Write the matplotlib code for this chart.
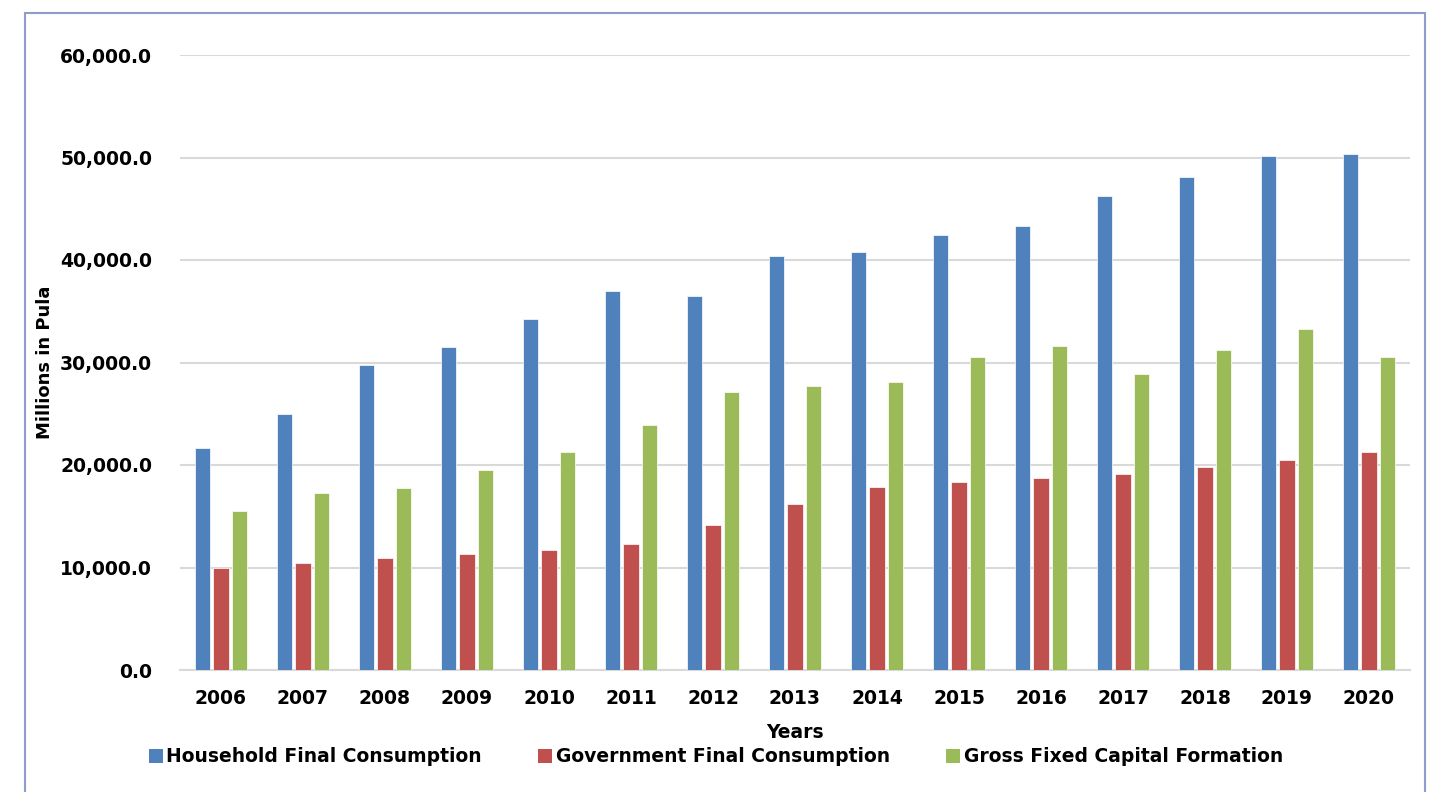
import matplotlib
matplotlib.use("Agg")
import matplotlib.pyplot as plt
import numpy as np
from matplotlib.patches import Rectangle
from matplotlib.ticker import FuncFormatter

years = ["2006", "2007", "2008", "2009", "2010", "2011", "2012", "2013",
         "2014", "2015", "2016", "2017", "2018", "2019", "2020"]
household = [21700, 25000, 29800, 31500, 34200, 37000, 36500, 40400,
             40800, 42400, 43300, 46200, 48100, 50100, 50300]
government = [10000, 10400, 10900, 11300, 11700, 12300, 14100, 16200,
              17900, 18300, 18700, 19100, 19800, 20500, 21300]
gross_fixed = [15500, 17300, 17800, 19500, 21300, 23900, 27100, 27700,
               28100, 30500, 31600, 28900, 31200, 33300, 30500]
series_names = ["Household Final Consumption", "Government Final Consumption",
                "Gross Fixed Capital Formation"]
colors = ["#4F81BD", "#C0504D", "#9BBB59"]

plt.rcParams['font.family'] = ['DejaVu Sans']
plt.rcParams['font.weight'] = 'bold'

W, H = 1438, 792
fig = plt.figure(figsize=(W / 100, H / 100), dpi=100)
ax = fig.add_axes([180 / W, 1 - 670 / H, (1410 - 180) / W, (670 - 55) / H])

x = np.arange(len(years))
bw = 0.19
step = 0.225
for i, (vals, c, name) in enumerate(zip([household, government, gross_fixed], colors, series_names)):
    ax.bar(x + (i - 1) * step, vals, width=bw, color=c, edgecolor="#ffffff",
           linewidth=0.5, label=name, zorder=3)

ax.set_xlim(-0.5, len(years) - 0.5)
ax.set_ylim(0, 60000)
ax.set_yticks(np.arange(0, 60001, 10000))
ax.yaxis.set_major_formatter(FuncFormatter(lambda v, p: f"{v:,.1f}"))
ax.set_xticks(x)
ax.set_xticklabels(years)
ax.grid(axis='y', color='#D9D9D9', linewidth=1.5, zorder=0)
ax.set_axisbelow(True)
for s in ['top', 'right', 'left']:
    ax.spines[s].set_visible(False)
ax.spines['bottom'].set_color('#D9D9D9')
ax.spines['bottom'].set_linewidth(1.5)
ax.tick_params(axis='both', length=0, labelsize=13.5)
ax.tick_params(axis='x', pad=14)
ax.tick_params(axis='y', pad=20)
for lab in ax.get_xticklabels() + ax.get_yticklabels():
    lab.set_fontweight('bold')

fig.text(45 / W, 1 - 362 / H, "Millions in Pula", rotation=90, ha='center', va='center',
         fontsize=13, fontweight='bold')
fig.text(795 / W, 1 - 733 / H, "Years", ha='center', va='center', fontsize=13.5, fontweight='bold')

leg = fig.legend(loc='center', bbox_to_anchor=(716 / W, 1 - 757 / H), ncol=3, frameon=False,
                 fontsize=13.5, handlelength=0.75, handleheight=0.75, handletextpad=0.2,
                 columnspacing=3.0)
for t in leg.get_texts():
    t.set_fontweight('bold')
for h in leg.legend_handles:
    h.set_linewidth(0)

fig.patches.append(Rectangle((25 / W, -0.05), (1425 - 25) / W, 1.05 - 13 / H,
                             transform=fig.transFigure, fill=False,
                             edgecolor='#8E9DCB', linewidth=1.5, zorder=10))

fig.savefig("out.png", dpi=100, facecolor='white')
